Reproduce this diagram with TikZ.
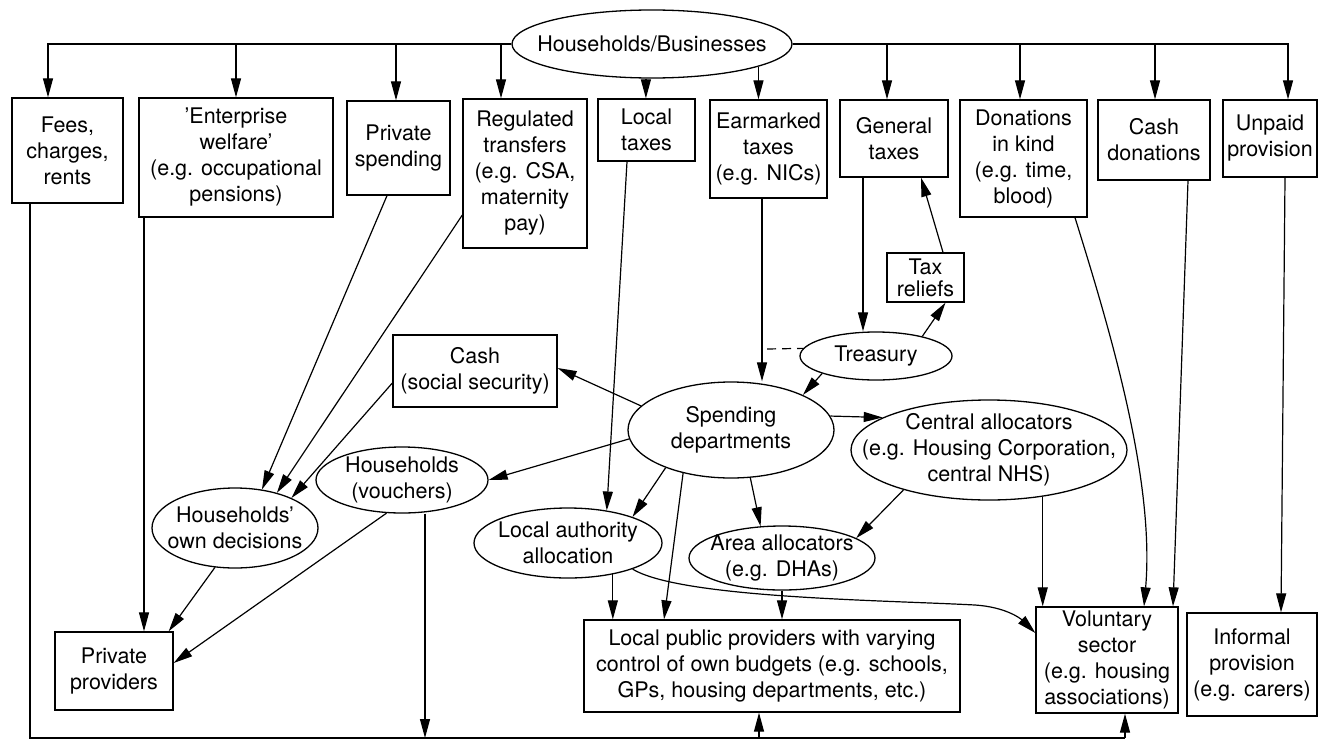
\documentclass[tikz,border=0pt]{standalone}
\usepackage{fontspec}
\setmainfont{TeX Gyre Heros}
\usetikzlibrary{arrows.meta,shapes.geometric}
\begin{document}
\begin{tikzpicture}[x=1pt,y=-1pt,
  every node/.style={font=\fontsize{21.5}{26}\selectfont, align=center, line width=1.3pt},
  box/.style={draw, rectangle, inner sep=2pt},
  ell/.style={draw, ellipse, inner xsep=-40pt, inner ysep=-40pt},
  arr/.style={-{Triangle[length=19pt,width=10pt]}, line width=1.2pt},
  ln/.style={line width=1.2pt}]
\useasboundingbox (0,0) rectangle (1319,744);

% top source
\node[ell, minimum width=280pt, minimum height=68pt] (hb) at (652,44) {Households/Businesses};

% top row boxes
\node[box, minimum width=111pt, minimum height=105pt] (fees) at (67.5,150.5) {Fees,\\charges,\\rents};
\node[box, minimum width=194pt, minimum height=119pt] (ent) at (236,157.5) {'Enterprise\\welfare'\\(e.g. occupational\\pensions)};
\node[box, minimum width=103pt, minimum height=94pt] (priv) at (398.5,148) {Private\\spending};
\node[box, minimum width=124pt, minimum height=149pt] (reg) at (525,173.5) {Regulated\\transfers\\(e.g. CSA,\\maternity\\pay)};
\node[box, minimum width=97pt, minimum height=62pt] (loc) at (646.5,130) {Local\\taxes};
\node[box, minimum width=117pt, minimum height=98pt] (earm) at (768.5,149) {Earmarked\\taxes\\(e.g. NICs)};
\node[box, minimum width=108pt, minimum height=77pt] (gen) at (894,138.5) {General\\taxes};
\node[box, minimum width=127pt, minimum height=117pt] (don) at (1023.5,158.5) {Donations\\in kind\\(e.g. time,\\blood)};
\node[box, minimum width=112pt, minimum height=80pt] (cashd) at (1154,140) {Cash\\donations};
\node[box, minimum width=94pt, minimum height=77pt] (unpaid) at (1270,138.5) {Unpaid\\provision};

% middle
\node[box, minimum width=77pt, minimum height=49pt, font=\fontsize{21.5}{22}\selectfont] (tr) at (925.5,277.5) {Tax\\reliefs};
\node[ell, minimum width=152pt, minimum height=48pt] (tre) at (876,356) {Treasury};
\node[box, minimum width=164pt, minimum height=72pt] (cash) at (475,371) {Cash\\(social security)};
\node[ell, minimum width=206pt, minimum height=96pt] (sp) at (731,430) {Spending\\departments};
\node[ell, minimum width=276pt, minimum height=100pt] (ca) at (989,450) {Central allocators\\(e.g. Housing Corporation,\\central NHS)};
\node[ell, minimum width=172pt, minimum height=66pt] (hv) at (402,480) {Households\\(vouchers)};
\node[ell, minimum width=166pt, minimum height=80pt] (hod) at (235,528) {Households'\\own decisions};
\node[ell, minimum width=188pt, minimum height=70pt] (la) at (568,543) {Local authority\\allocation};
\node[ell, minimum width=186pt, minimum height=64pt] (aa) at (782,558) {Area allocators\\(e.g. DHAs)};

% bottom row
\node[box, minimum width=118pt, minimum height=78pt] (pp) at (114,671) {Private\\providers};
\node[box, minimum width=376pt, minimum height=92pt] (lpp) at (772,666) {Local public providers with varying\\control of own budgets (e.g. schools,\\GPs, housing departments, etc.)};
\node[box, minimum width=142pt, minimum height=106pt] (vol) at (1107,660) {Voluntary\\sector\\(e.g. housing\\associations)};
\node[box, minimum width=130pt, minimum height=103pt] (inf) at (1252,664.5) {Informal\\provision\\(e.g. carers)};

% top distribution
\draw[arr] (hb.west) -| (48,0 |- fees.north);
\foreach \x/\n in {236/ent,396/priv,501/reg}
  \draw[arr] (\x,0 |- hb.west) -- (\x,0 |- \n.north);
\draw[arr] (hb.east) -| (1288,0 |- unpaid.north);
\foreach \x/\n in {887/gen,1020/don,1155/cashd}
  \draw[arr] (\x,0 |- hb.east) -- (\x,0 |- \n.north);
\draw[arr] (hb.-100) -- (hb.-100 |- loc.north);
\draw[arr] (hb.-12.6) -- (hb.-12.6 |- earm.north);

% bottom loop
\coordinate (bl) at (30,738);
\coordinate (br) at (1125,738);
\draw[ln] (30,0 |- fees.south) -- (bl) -- (br);
\draw[arr] (br) -- (br |- vol.south);
\draw[arr] (759,0 |- bl) -- (759,0 |- lpp.south);
\draw[arr] (425,0 |- hv.south) -- (425,0 |- bl);

% left side
\draw[arr] (144,0 |- ent.south) -- (144,0 |- pp.north);
\draw[arr] (387,0 |- priv.south) -- (hod.55);
\draw[arr] (reg.west |- 0,215) -- (hod.40);
\draw[arr] (cash.west |- 0,383) -- (hod.28);
\draw[arr] (hod.-117) -- ([xshift=-5pt]pp.north east);
\draw[arr] (hv.-115) -- ([yshift=8pt]pp.east);

% centre
\draw[arr] (sp.165) -- ([yshift=3pt]cash.east);
\draw[arr] (sp.185) -- (hv.east);
\draw[arr] (sp.-150) -- (la.22);
\draw[arr] (sp.-138) -- (664,0 |- lpp.north);
\draw[arr] (sp.-68) -- (aa.124);
\draw[arr] (sp.8) -- (ca.163);
\draw[arr] (tre.-162) -- (sp.26);
\draw[arr] (tre.23) -- ([xshift=20pt]tr.south);
\draw[arr] ([xshift=17.5pt]tr.north) -- ([xshift=27pt]gen.south);
\draw[arr] (863,0 |- gen.south) -- (863,0 |- tre.north);
\draw[arr] (762,0 |- earm.south) -- (762,0 |- sp.north);
\coordinate (dash0) at (767,349);
\draw[ln, dash pattern=on 9pt off 6pt] (dash0) -- (tre.174);

\draw[arr] (627,0 |- loc.south) -- (la.40);
\draw[arr] (la.-35) -- (la.-35 |- lpp.north);
\draw[arr] (aa.south) -- (aa.south |- lpp.north);
\draw[arr] (ca.-155) -- (aa.15);
\draw[arr] (ca.-41.5) -- (ca.-41.5 |- vol.north);
\draw[arr] (la.-22) .. controls (680,598) and (880,600) .. (975,605)
  .. controls (1005,607) and (1020,618) .. (vol.west |- 0,633);

% right side
\draw[arr] (1075,0 |- don.south) .. controls (1110,330) and (1155,480) .. (1144,0 |- vol.north);
\draw[arr] (1188,0 |- cashd.south) -- (1173,0 |- vol.north);
\draw[arr] (1285,0 |- unpaid.south) -- (1281,0 |- inf.north);
\end{tikzpicture}
\end{document}
